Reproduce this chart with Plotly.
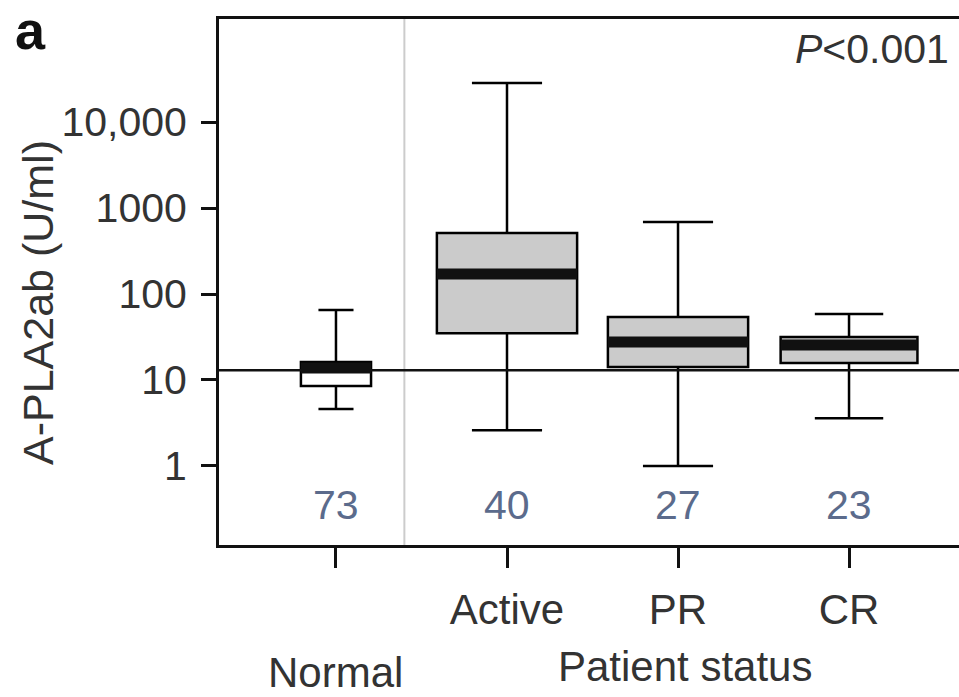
import plotly.graph_objects as go

categories = ["Normal", "Active", "PR", "CR"]
tick_labels = ["", "Active", "PR", "CR"]
counts = [73, 40, 27, 23]
lower_whisker = [4.6, 2.6, 1.0, 3.6]
q1 = [8.5, 35, 14.2, 15.8]
median = [13.8, 171, 27.7, 25.5]
q3 = [16.2, 512, 54, 31.6]
upper_whisker = [65, 28400, 687, 58.5]
box_widths = [0.41, 0.82, 0.82, 0.80]
box_fills = ["#ffffff", "#cbcbcb", "#cbcbcb", "#cbcbcb"]
cutoff = 13
y_ticks = [1, 10, 100, 1000, 10000]
y_ticktext = ["1", "10", "100", "1000", "10,000"]

FONT = "Liberation Sans, Arial, Helvetica, sans-serif"
TXT = "#333333"
xpos = list(range(len(categories)))

# plot area in pixels (for converting label pixel positions to paper coords)
L, T, R, B = 219, 19, 959, 545
def px(x):
    return (x - L) / (R - L)
def py(y):
    return (B - y) / (B - T)

fig = go.Figure()
for i, c in enumerate(categories):
    fig.add_trace(go.Box(
        x=[xpos[i]], q1=[q1[i]], median=[median[i]], q3=[q3[i]],
        lowerfence=[lower_whisker[i]], upperfence=[upper_whisker[i]],
        width=box_widths[i], whiskerwidth=0.5,
        fillcolor=box_fills[i], line=dict(color="black", width=2.5),
        boxpoints=False, name=c, showlegend=False, hoverinfo="skip",
    ))
    half = box_widths[i] / 2
    fig.add_trace(go.Scatter(
        x=[xpos[i] - half, xpos[i] + half], y=[median[i], median[i]],
        mode="lines", line=dict(color="#111111", width=11),
        showlegend=False, hoverinfo="skip",
    ))

# cutoff line
fig.add_shape(type="line", xref="paper", yref="y", x0=0, x1=1,
              y0=cutoff, y1=cutoff, line=dict(color="#111111", width=2.5))
# separator between normal and patients
fig.add_shape(type="line", xref="x", yref="paper", x0=0.4, x1=0.4,
              y0=0, y1=1, line=dict(color="#cccccc", width=2), layer="below")

# counts
for i, n in enumerate(counts):
    fig.add_annotation(x=xpos[i], y=py(505), xref="x", yref="paper",
                       text=str(n), showarrow=False,
                       xanchor="center", yanchor="middle",
                       font=dict(family=FONT, size=41, color="#5b6b8c"))

fig.add_annotation(x=xpos[0], y=py(672), xref="x", yref="paper", text="Normal",
                   showarrow=False, xanchor="center", yanchor="middle",
                   font=dict(family=FONT, size=42, color=TXT))
fig.add_annotation(x=px(685), y=py(666), xref="paper", yref="paper",
                   text="Patient status", showarrow=False,
                   xanchor="center", yanchor="middle",
                   font=dict(family=FONT, size=42, color=TXT))
fig.add_annotation(x=px(951), y=py(49), xref="paper", yref="paper",
                   text="<i>P</i>&lt;0.001", showarrow=False,
                   xanchor="right", yanchor="middle",
                   font=dict(family=FONT, size=41, color=TXT))
fig.add_annotation(x=px(30), y=py(30), xref="paper", yref="paper",
                   text="<b>a</b>", showarrow=False,
                   xanchor="center", yanchor="middle",
                   font=dict(family=FONT, size=54, color="#111111"))
fig.add_annotation(x=px(38), y=py(303), xref="paper", yref="paper",
                   text="A-PLA2ab (U/ml)", showarrow=False, textangle=-90,
                   xanchor="center", yanchor="middle",
                   font=dict(family=FONT, size=43, color=TXT))

fig.update_layout(
    width=959, height=697,
    margin=dict(l=L, r=959 - R, t=T, b=697 - B),
    paper_bgcolor="white", plot_bgcolor="white",
    boxmode="overlay",
    xaxis=dict(range=[-0.684, 3.643], tickmode="array", tickvals=xpos,
               ticktext=tick_labels, showgrid=False, zeroline=False,
               showline=True, linecolor="#111111", linewidth=3, mirror=True,
               ticks="outside", ticklen=20, tickwidth=2.5, tickcolor="#111111",
               tickfont=dict(family=FONT, size=42, color=TXT),
               ticklabelstandoff=6),
    yaxis=dict(type="log", range=[-0.919, 5.198], tickmode="array",
               tickvals=y_ticks, ticktext=y_ticktext, showgrid=False,
               zeroline=False, showline=True, linecolor="#111111", linewidth=3,
               mirror=False, ticks="outside", ticklen=15, tickwidth=2.5,
               tickcolor="#111111",
               tickfont=dict(family=FONT, size=41, color=TXT),
               ticklabelstandoff=6),
)

fig.write_html("out.html")
